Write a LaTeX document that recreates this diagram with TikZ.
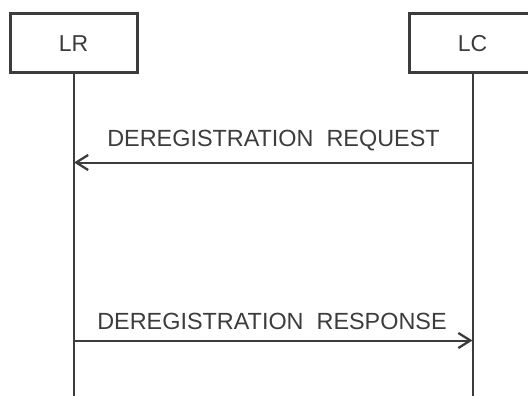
\documentclass[tikz,border=0pt]{standalone}
\usepackage{fontspec}
\setmainfont{Liberation Sans}
\usetikzlibrary{arrows.meta}
\definecolor{ink}{HTML}{3C3C3C}
\begin{document}
\begin{tikzpicture}[x=1pt,y=-1pt,
  actor/.style={draw=ink,line width=3pt,fill=white,minimum width=127pt,minimum height=59pt,
    inner sep=0pt,text=ink,font=\fontsize{23}{23}\selectfont},
  lifeline/.style={draw=ink,line width=2pt},
  msg/.style={draw=ink,line width=2pt,-{Straight Barb[length=12pt,width=15pt,line width=2.3pt]}},
  lbl/.style={text=ink,font=\fontsize{23.4}{23}\selectfont,inner sep=0pt}]
  \useasboundingbox (0,0) rectangle (528,396);
  \begin{scope}
    \clip (0,0) rectangle (528,396);
    % lifelines
    \coordinate (lrend) at (74,400);
    \coordinate (lcend) at (472.5,400);
    \node[actor] (lr) at (73.5,43.5) {LR};
    \node[actor] (lc) at (472.5,43.5) {LC};
    \draw[lifeline] (lr.south -| lrend) -- (lrend);
    \draw[lifeline] (lc.south -| lcend) -- (lcend);
    % messages
    \coordinate (reqA) at (472.5,162.5);
    \coordinate (reqB) at (74,162.5);
    \coordinate (resA) at (74,340.5);
    \coordinate (resB) at (472.5,340.5);
    \draw[msg] (reqA) -- (reqB);
    \draw[msg] (resA) -- (resB);
    \node[lbl] (reqtext) at (273.5,140.5) {DEREGISTRATION\ \ REQUEST};
    \node[lbl] (restext) at (272,321) {DEREGISTRATION\ \ RESPONSE};
  \end{scope}
\end{tikzpicture}
\end{document}
